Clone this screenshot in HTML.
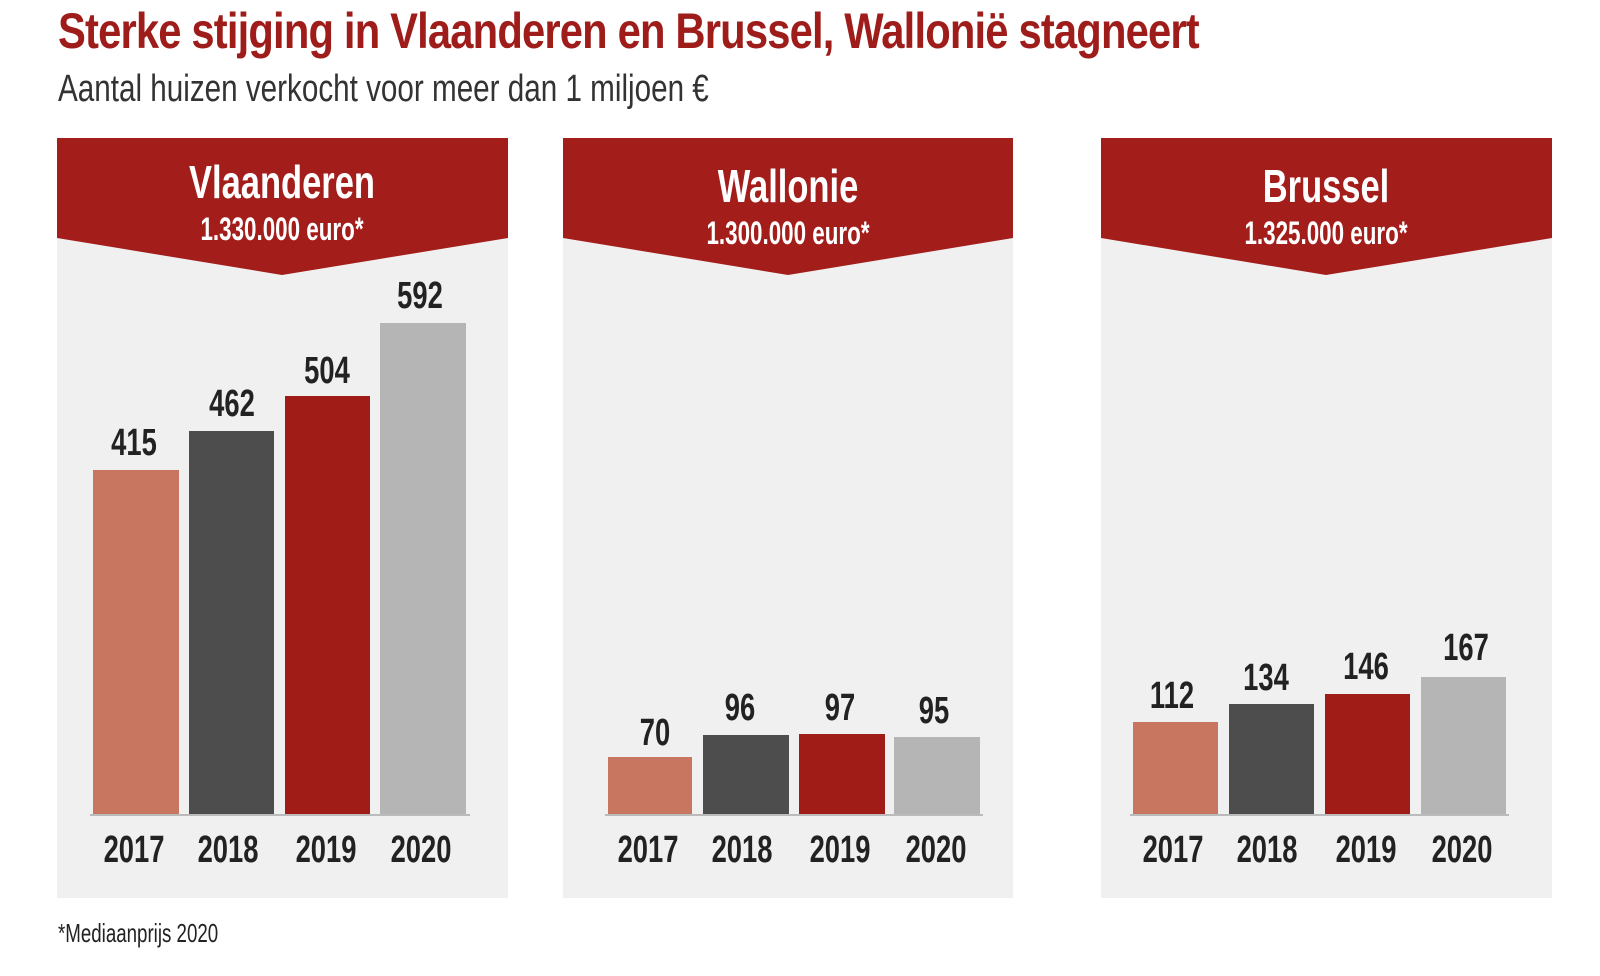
<!DOCTYPE html>
<html><head><meta charset="utf-8"><style>
body{margin:0;width:1600px;height:976px;background:#fff;overflow:hidden;position:relative;font-family:"Liberation Sans Narrow","Liberation Sans",sans-serif;}
.t{position:absolute;white-space:nowrap;font-weight:bold;}
</style></head><body>
<div class="t" style="left:58px;top:2px;font-size:50px;color:#9e1c1a;letter-spacing:-1px;transform:scaleX(0.835);transform-origin:left">Sterke stijging in Vlaanderen en Brussel, Wallonië stagneert</div>
<div class="t" style="left:58px;top:68px;font-size:38px;font-weight:normal;color:#333;transform:scaleX(0.78);transform-origin:left">Aantal huizen verkocht voor meer dan 1 miljoen €</div>
<svg width="1600" height="976" style="position:absolute;left:0;top:0" font-family="Liberation Sans Narrow, Liberation Sans, sans-serif" font-weight="bold">
<g fill="#f0f0f0"><rect x="57" y="138" width="451" height="760"/><rect x="563" y="138" width="450" height="760"/><rect x="1101" y="138" width="451" height="760"/></g>
<g fill="#a31d1a">
<polygon points="57,138 508,138 508,238 282,275 57,238"/>
<polygon points="563,138 1013,138 1013,238 788,275 563,238"/>
<polygon points="1101,138 1552,138 1552,238 1326,275 1101,238"/>
</g>
<g fill="#fff" text-anchor="middle">
<text transform="translate(282,198) scale(0.75,1)" font-size="46">Vlaanderen</text><text transform="translate(282,240) scale(0.7,1)" font-size="32">1.330.000 euro*</text>
<text transform="translate(788,202) scale(0.75,1)" font-size="46">Wallonie</text><text transform="translate(788,244) scale(0.7,1)" font-size="32">1.300.000 euro*</text>
<text transform="translate(1326,202) scale(0.75,1)" font-size="46">Brussel</text><text transform="translate(1326,244) scale(0.7,1)" font-size="32">1.325.000 euro*</text>
</g>
<g>
<rect x="93" y="470" width="86" height="345" fill="#c97660"/><rect x="189" y="431" width="85" height="384" fill="#4d4d4d"/><rect x="285" y="396" width="85" height="419" fill="#a01c17"/><rect x="380" y="323" width="86" height="492" fill="#b5b5b5"/>
<rect x="608" y="757" width="84" height="58" fill="#c97660"/><rect x="703" y="735" width="86" height="80" fill="#4d4d4d"/><rect x="799" y="734" width="86" height="81" fill="#a01c17"/><rect x="894" y="737" width="86" height="78" fill="#b5b5b5"/>
<rect x="1133" y="722" width="85" height="93" fill="#c97660"/><rect x="1229" y="704" width="85" height="111" fill="#4d4d4d"/><rect x="1325" y="694" width="85" height="121" fill="#a01c17"/><rect x="1421" y="677" width="85" height="138" fill="#b5b5b5"/>
</g>
<g stroke="#bbb" stroke-width="2"><line x1="90" y1="815" x2="470" y2="815"/><line x1="605" y1="815" x2="983" y2="815"/><line x1="1130" y1="815" x2="1509" y2="815"/></g>
<g fill="#222" text-anchor="middle" font-size="38">
<text transform="translate(134,455) scale(0.72,1)">415</text><text transform="translate(232,416) scale(0.72,1)">462</text><text transform="translate(327,383) scale(0.72,1)">504</text><text transform="translate(420,308) scale(0.72,1)">592</text>
<text transform="translate(655,745) scale(0.72,1)">70</text><text transform="translate(740,720) scale(0.72,1)">96</text><text transform="translate(840,720) scale(0.72,1)">97</text><text transform="translate(934,723) scale(0.72,1)">95</text>
<text transform="translate(1172,708) scale(0.72,1)">112</text><text transform="translate(1266,690) scale(0.72,1)">134</text><text transform="translate(1366,679) scale(0.72,1)">146</text><text transform="translate(1466,660) scale(0.72,1)">167</text>
<text transform="translate(134,862) scale(0.72,1)">2017</text><text transform="translate(228,862) scale(0.72,1)">2018</text><text transform="translate(326,862) scale(0.72,1)">2019</text><text transform="translate(421,862) scale(0.72,1)">2020</text>
<text transform="translate(648,862) scale(0.72,1)">2017</text><text transform="translate(742,862) scale(0.72,1)">2018</text><text transform="translate(840,862) scale(0.72,1)">2019</text><text transform="translate(936,862) scale(0.72,1)">2020</text>
<text transform="translate(1173,862) scale(0.72,1)">2017</text><text transform="translate(1267,862) scale(0.72,1)">2018</text><text transform="translate(1366,862) scale(0.72,1)">2019</text><text transform="translate(1462,862) scale(0.72,1)">2020</text>
</g>
<text transform="translate(58,942) scale(0.72,1)" font-size="26" font-weight="normal" fill="#222">*Mediaanprijs 2020</text>
</svg>
</body></html>
